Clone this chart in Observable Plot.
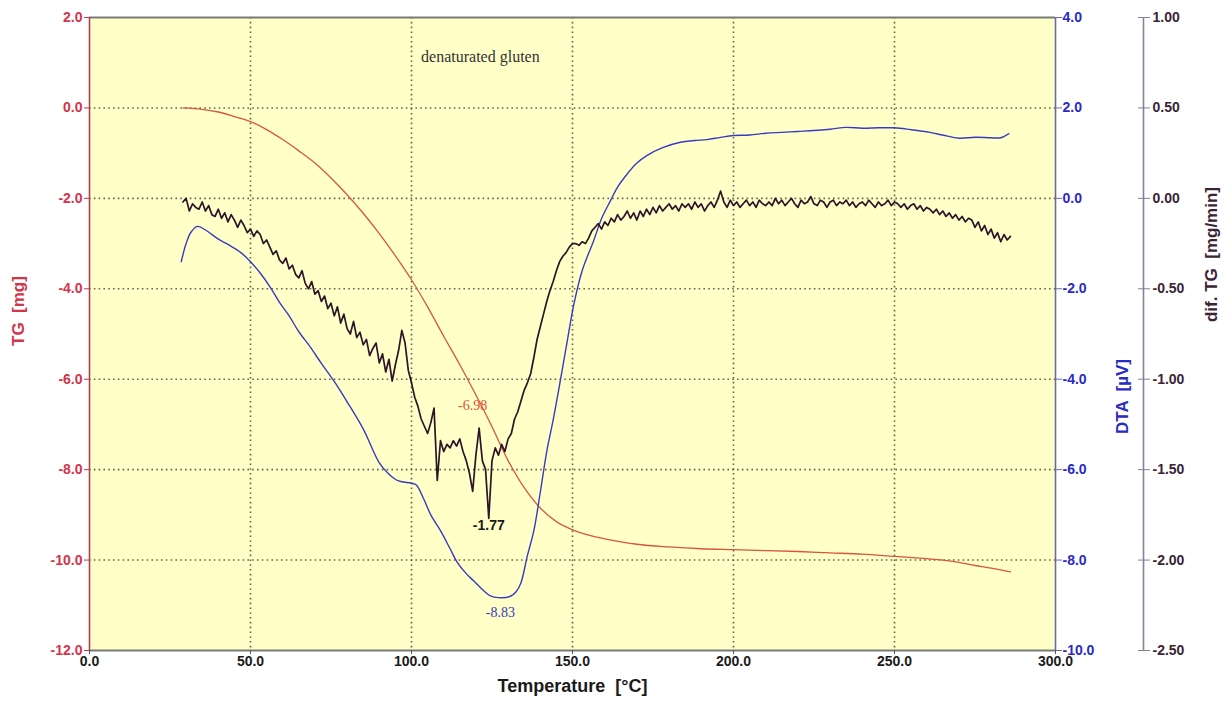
<!DOCTYPE html>
<html>
<head>
<meta charset="utf-8">
<script src="https://cdn.jsdelivr.net/npm/d3@7"></script>
<script src="https://cdn.jsdelivr.net/npm/@observablehq/plot@0.6"></script>
<style>
  html, body { margin: 0; padding: 0; background: #fff; }
  #chart { width: 1230px; height: 709px; }
</style>
</head>
<body>
<div id="chart"></div>
<script>
// ---- Tick values ----
const xTicks = [0, 50, 100, 150, 200, 250, 300];
const tgTicks = [2, 0, -2, -4, -6, -8, -10, -12];
const dtaTicks = [4, 2, 0, -2, -4, -6, -8, -10];
const dtgTicks = [1.0, 0.5, 0.0, -0.5, -1.0, -1.5, -2.0, -2.5];

// ---- TG curve [mg] : temperature, value ----
const tgTemp = [29, 35, 40, 45, 50, 55, 60, 65, 70, 75, 80, 85, 90, 95, 100, 105, 110, 115, 120, 125, 130, 135, 140, 145, 150, 155, 160, 170, 180, 190, 200, 210, 220, 230, 240, 250, 260, 265, 270, 275, 280, 286];
const tgValue = [0.0, -0.03, -0.09, -0.19, -0.3, -0.48, -0.7, -0.95, -1.22, -1.55, -1.92, -2.33, -2.78, -3.27, -3.8, -4.4, -5.05, -5.68, -6.35, -7.05, -7.8, -8.4, -8.85, -9.15, -9.33, -9.45, -9.53, -9.65, -9.71, -9.75, -9.77, -9.79, -9.81, -9.84, -9.87, -9.92, -9.97, -10.0, -10.05, -10.12, -10.18, -10.26];

// ---- DTA curve [µV] : temperature, value ----
const dtaTemp = [28.5, 30, 31.5, 33.5, 36, 40, 43, 47, 50, 53, 56, 59, 62, 65, 68.6, 72, 76, 80, 85, 90, 93, 96, 100, 101.5, 103.8, 106, 109, 112, 114.2, 117, 119.3, 122, 124.5, 127, 130.7, 132.5, 134, 136, 138, 140, 142, 144, 146.3, 148.5, 150.4, 153, 156.6, 159, 161.8, 164, 167, 170, 173.2, 178, 183.5, 188, 191.8, 196, 200, 205, 210, 215, 220, 225, 230, 235, 240, 245, 250, 255, 261, 265, 270, 275, 280, 283, 285.5];
const dtaValue = [-1.4, -1.0, -0.75, -0.62, -0.7, -0.9, -1.02, -1.2, -1.4, -1.65, -1.95, -2.3, -2.6, -2.95, -3.29, -3.65, -4.05, -4.5, -5.1, -5.85, -6.1, -6.25, -6.3, -6.34, -6.65, -7.0, -7.35, -7.75, -8.05, -8.3, -8.46, -8.65, -8.79, -8.83, -8.8, -8.7, -8.5, -7.9, -7.35, -6.5, -5.6, -4.9, -4.0, -3.1, -2.35, -1.6, -0.93, -0.45, -0.05, 0.25, 0.54, 0.78, 0.95, 1.12, 1.24, 1.28, 1.3, 1.35, 1.39, 1.4, 1.44, 1.46, 1.48, 1.5, 1.53, 1.57, 1.55, 1.56, 1.56, 1.52, 1.46, 1.4, 1.33, 1.35, 1.34, 1.34, 1.43];

// ---- dif. TG curve [mg/min], one reading per °C from 29 °C ----
const dtgStart = 29;
const dtgValue = [
  -0.02, 0.00, -0.07, -0.03, -0.05, -0.06, -0.02,
  -0.07, -0.04, -0.09, -0.10, -0.06, -0.11, -0.08, -0.13, -0.09, -0.12,
  -0.16, -0.12, -0.15, -0.19, -0.17, -0.21, -0.18, -0.20, -0.25, -0.23,
  -0.27, -0.31, -0.29, -0.34, -0.36, -0.33, -0.39, -0.37, -0.42, -0.44,
  -0.40, -0.47, -0.50, -0.46, -0.53, -0.51, -0.57, -0.54, -0.61, -0.58,
  -0.65, -0.60, -0.69, -0.64, -0.72, -0.75, -0.68, -0.77, -0.74, -0.81,
  -0.78, -0.87, -0.83, -0.80, -0.91, -0.86, -0.96, -0.89, -1.01, -0.92, -0.84, -0.73,
  -0.80, -0.95, -1.02, -1.10, -1.15, -1.22, -1.26, -1.30, -1.24, -1.16, -1.56, -1.34, -1.40,
  -1.36, -1.38, -1.34, -1.37, -1.33, -1.40, -1.45, -1.52, -1.62, -1.42, -1.27, -1.45, -1.50, -1.77,
  -1.45, -1.38, -1.42, -1.36, -1.40, -1.33, -1.30, -1.22, -1.18, -1.12, -1.06, -1.02, -0.97, -0.88, -0.78, -0.71,
  -0.64, -0.57, -0.51, -0.46, -0.40, -0.35, -0.32, -0.30, -0.27, -0.25,
  -0.25, -0.26, -0.24, -0.25, -0.22, -0.18, -0.16, -0.14, -0.17, -0.13, -0.15, -0.11, -0.13, -0.09, -0.12,
  -0.10, -0.07, -0.11, -0.08, -0.12, -0.07, -0.10, -0.06, -0.09, -0.05, -0.08, -0.04, -0.07, -0.05, -0.03, -0.06, -0.04, -0.07, -0.03, -0.05,
  -0.03, -0.06, -0.02, -0.05, -0.03, -0.07, -0.04, -0.02, -0.05, -0.01, 0.04, -0.02, -0.05, -0.01, -0.04,
  -0.02, -0.05, -0.03, -0.01, -0.04, -0.02, -0.05, -0.01, -0.03, -0.04, -0.02, -0.04, 0.00, -0.03, -0.01, -0.04, -0.02, 0.00, -0.03, -0.05, -0.01, -0.03, -0.02, 0.01, -0.03, -0.04, -0.01, -0.02, -0.05, -0.02,
  -0.01, -0.04, -0.02, -0.03, -0.01, -0.04, -0.02, -0.05, -0.03, -0.02, -0.04, -0.01, -0.03, -0.05, -0.02, -0.04, -0.03, -0.01, -0.04, -0.02, -0.03, -0.05, -0.03, -0.06, -0.04, -0.03, -0.06, -0.04, -0.07, -0.05,
  -0.06, -0.08, -0.06, -0.09, -0.07, -0.10, -0.08, -0.11, -0.09, -0.12, -0.10, -0.13, -0.11, -0.12, -0.16, -0.13, -0.18, -0.15, -0.20, -0.17, -0.22, -0.19, -0.24, -0.20, -0.23, -0.21
];

// ---- Annotations (temperature, value on own axis) ----
const noteTitle = {text: "denaturated gluten", t: 121.4, tg: 1.12};
const noteTG = {text: "-6.98", t: 119, tg: -6.58};
const noteDTG = {text: "-1.77", t: 124, dtg: -1.81};
const noteDTA = {text: "-8.83", t: 127.6, dta: -9.16};

// ---- conversions onto the common (TG) position scale ----
const fromDTA = v => v - 2;
const fromDTG = v => v * 4 - 2;

const tgData = tgTemp.map((t, i) => ({t, y: tgValue[i]}));
const dtaData = dtaTemp.map((t, i) => ({t, y: fromDTA(dtaValue[i])}));
const dtgData = dtgValue.map((v, i) => ({t: dtgStart + i, y: fromDTG(v)}));

const RED = "#d2344c", BLUE = "#2a2ac4", DARK = "#3a2436";
const gridStyle = {stroke: "#4a4a3a", strokeWidth: 1.6, strokeDasharray: "1.6,3.2", strokeOpacity: 0.85};
const axisFont = {fontSize: 14, fontWeight: "bold"};

const chart = Plot.plot({
  width: 1230,
  height: 709,
  marginLeft: 89,
  marginRight: 175,
  marginTop: 17,
  marginBottom: 59,
  style: {background: "#fff", fontFamily: "Liberation Sans, Arial, sans-serif", overflow: "visible"},
  x: {type: "linear", domain: [0, 300]},
  y: {type: "linear", domain: [-12, 2]},
  marks: [
    Plot.frame({fill: "#ffffc8", stroke: null}),
    Plot.gridX(xTicks.slice(1, -1), gridStyle),
    Plot.gridY(tgTicks.slice(1, -1), gridStyle),
    // frame lines
    Plot.ruleY([2, -12], {stroke: "#7a7a7a", strokeWidth: 2}),
    Plot.ruleX([0], {stroke: "#b0404e", strokeWidth: 1.6}),
    Plot.ruleX([300], {stroke: "#6a6aa8", strokeWidth: 1.6}),
    Plot.ruleX([300], {dx: 88, stroke: "#8a8098", strokeWidth: 1.6}),
    // axes
    Plot.axisX(xTicks, {tickFormat: d => d.toFixed(1), tickSize: 4, tickPadding: 2, ...axisFont, fill: "#1a1a1a", stroke: "#555", label: null}),
    Plot.axisY(tgTicks, {anchor: "left", tickFormat: d => d.toFixed(1), tickSize: 5, tickPadding: 2, ...axisFont, fill: RED, stroke: "#b0404e", label: null}),
    Plot.axisY(dtaTicks.map(fromDTA), {anchor: "right", tickFormat: d => (d + 2).toFixed(1), tickSize: 6, tickPadding: 1, ...axisFont, fill: BLUE, stroke: "#6a6aa8", label: null}),
    Plot.axisY(dtgTicks.map(fromDTG), {anchor: "right", dx: 82, tickFormat: d => ((d + 2) / 4).toFixed(2), tickSize: 12, tickPadding: 3, ...axisFont, fill: DARK, stroke: "#8a8098", label: null}),
    // curves
    Plot.line(tgData, {x: "t", y: "y", stroke: "#d9553e", strokeWidth: 1.3, curve: "catmull-rom"}),
    Plot.line(dtaData, {x: "t", y: "y", stroke: "#3a3ac0", strokeWidth: 1.4, curve: "catmull-rom"}),
    Plot.line(dtgData, {x: "t", y: "y", stroke: "#2e1428", strokeWidth: 1.7}),
    // annotations
    Plot.text([noteTitle], {x: "t", y: "tg", text: "text", fontFamily: "Liberation Serif, DejaVu Serif, serif", fontSize: 16, fill: "#333"}),
    Plot.text([noteTG], {x: "t", y: "tg", text: "text", fontFamily: "Liberation Serif, serif", fontSize: 14, fill: "#e0503c"}),
    Plot.text([noteDTG], {x: "t", y: d => fromDTG(d.dtg), text: "text", fontSize: 14, fontWeight: "bold", fill: "#1a1a1a"}),
    Plot.text([noteDTA], {x: "t", y: d => fromDTA(d.dta), text: "text", fontFamily: "Liberation Serif, serif", fontSize: 14, fill: "#3a3ac0"}),
    // axis titles
    Plot.text(["Temperature  [°C]"], {frameAnchor: "bottom", dy: 41, fontSize: 18, fontWeight: "bold", fill: "#1a1a1a"}),
    Plot.text(["TG  [mg]"], {frameAnchor: "left", dx: -71, dy: 12, rotate: -90, fontSize: 17, fontWeight: "bold", fill: RED}),
    Plot.text(["DTA  [µV]"], {frameAnchor: "right", dx: 67, dy: 25, rotate: -90, fontSize: 17, fontWeight: "bold", fill: BLUE}),
    Plot.text(["dif. TG  [mg/min]"], {frameAnchor: "right", dx: 156, dy: -147, rotate: -90, fontSize: 17, fontWeight: "bold", fill: DARK})
  ]
});
document.getElementById("chart").appendChild(chart);
// make every axis tick label bold and 14px (inline style wins over inherited attributes)
chart.querySelectorAll("text").forEach(t => {
  let el = t.parentNode, isAxis = false;
  while (el && el !== chart) {
    const lab = el.getAttribute && el.getAttribute("aria-label");
    if (lab && /axis/.test(lab)) { isAxis = true; break; }
    el = el.parentNode;
  }
  if (isAxis) { t.style.fontWeight = "700"; t.style.fontSize = "14px"; }
});
</script>
</body>
</html>
